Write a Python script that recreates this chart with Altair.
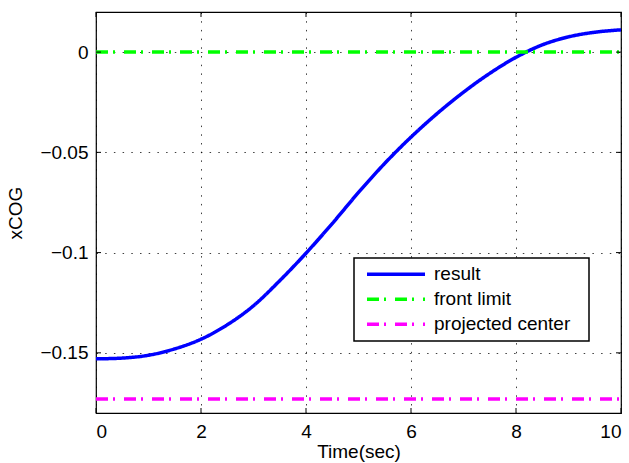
import altair as alt
import pandas as pd

t_vals = [0, 0.5, 1, 1.5, 2, 2.5, 3, 3.5, 4, 4.5, 5, 5.5, 6, 6.5, 7, 7.5, 8, 8.5, 9, 9.5, 10]
result_vals = [-0.1530, -0.1526, -0.1512, -0.1480, -0.1432, -0.1360, -0.1265, -0.1140,
               -0.1003, -0.0855, -0.0700, -0.0555, -0.0424, -0.0306, -0.0200, -0.0106,
               -0.0026, 0.0036, 0.0076, 0.0099, 0.0111]
front_limit = 0.0
projected_center = -0.173
series_names = ["result", "front limit", "projected center"]
series_colors = ["#0000ff", "#00ff00", "#ff00ff"]
x_ticks = [0, 2, 4, 6, 8, 10]
y_ticks = [0, -0.05, -0.1, -0.15]

rows = []
for t, v in zip(t_vals, result_vals):
    rows.append({"series": "result", "t": t, "v": v})
for t in [0, 10]:
    rows.append({"series": "front limit", "t": t, "v": front_limit})
for t in [0, 10]:
    rows.append({"series": "projected center", "t": t, "v": projected_center})
df = pd.DataFrame(rows)

FONT = "Liberation Sans"
FS = 19
W, H = 525, 401

xscale = alt.Scale(domain=[0, 10], nice=False, zero=False)
yscale = alt.Scale(domain=[-0.18, 0.02], nice=False, zero=False)

lines = alt.Chart(df).mark_line(strokeWidth=3.5, clip=True, interpolate="monotone").encode(
    x=alt.X("t:Q", scale=xscale,
            axis=alt.Axis(values=x_ticks, title="Time(sec)", format="~r")),
    y=alt.Y("v:Q", scale=yscale,
            axis=alt.Axis(values=y_ticks, title="xCOG", format="~r")),
    color=alt.Color("series:N",
                    scale=alt.Scale(domain=series_names, range=series_colors),
                    legend=alt.Legend(title=None, orient="none", legendX=258, legendY=246,
                                      symbolType="stroke", symbolSize=3364,
                                      symbolStrokeWidth=3.5, symbolOffset=7, clipHeight=24.5,
                                      labelFontSize=FS, labelFont=FONT, labelColor="black",
                                      labelExpr="datum.label + '\u2800'",
                                      strokeColor="black", fillColor="white",
                                      padding=4, rowPadding=0, labelOffset=7,
                                      labelLimit=400)),
    strokeDash=alt.StrokeDash("series:N",
                              scale=alt.Scale(domain=series_names,
                                              range=[[1, 0], [12, 5, 2, 9], [12, 5, 2, 9]]),
                              legend=None),
    order=alt.Order("t:Q"),
)

xt = pd.DataFrame({"t": x_ticks})
yt = pd.DataFrame({"v": y_ticks})
tick_style = dict(color="black", strokeWidth=1)
bt = alt.Chart(xt).mark_rule(**tick_style).encode(
    x=alt.X("t:Q", scale=xscale), y=alt.value(H), y2=alt.value(H - 5))
tt = alt.Chart(xt).mark_rule(**tick_style).encode(
    x=alt.X("t:Q", scale=xscale), y=alt.value(0), y2=alt.value(5))
lt = alt.Chart(yt).mark_rule(**tick_style).encode(
    y=alt.Y("v:Q", scale=yscale), x=alt.value(0), x2=alt.value(5))
rt = alt.Chart(yt).mark_rule(**tick_style).encode(
    y=alt.Y("v:Q", scale=yscale), x=alt.value(W), x2=alt.value(W - 5))

chart = alt.layer(lines, bt, tt, lt, rt).properties(
    width=W, height=H,
    autosize=alt.AutoSizeParams(type="none"),
    padding={"left": 96, "top": 12, "right": 8, "bottom": 50},
).configure(
    background="white"
).configure_view(
    stroke="black", strokeWidth=1.2
).configure_legend(
    strokeWidth=1.5
).configure_axis(
    grid=True, gridColor="black", gridDash=[1.5, 7.2], gridOpacity=0.75, gridWidth=1,
    domain=False, ticks=False,
    labelFont=FONT, labelFontSize=FS, labelColor="black",
    titleFont=FONT, titleFontSize=FS, titleColor="black", titleFontWeight="normal",
).configure_axisX(
    labelPadding=9, titlePadding=1,
).configure_axisY(
    labelPadding=8, titlePadding=14,
)

chart.save("out.html", embed_options={"renderer": "svg", "actions": False})
